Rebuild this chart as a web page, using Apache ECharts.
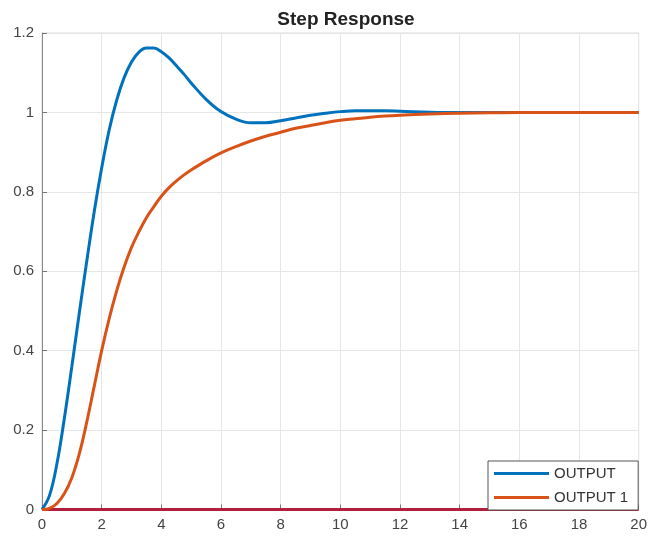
<!DOCTYPE html>
<html>
<head>
<meta charset="utf-8">
<script src="https://cdn.jsdelivr.net/npm/echarts@6/dist/echarts.min.js"></script>
<style>
  html, body { margin: 0; padding: 0; background: #fff; }
  #chart { width: 650px; height: 541px; }
</style>
</head>
<body>
<div id="chart"></div>
<script>
// Sample times (s) for the two step responses
const time = [0, 0.25, 0.5, 0.75, 1, 1.25, 1.5, 1.75, 2, 2.25, 2.5, 2.75, 3, 3.25, 3.5, 3.75,
  4, 4.25, 4.5, 4.75, 5, 5.5, 6, 6.5, 7, 7.5, 8, 8.5, 9, 9.5, 10, 10.5, 11, 11.5, 12,
  13, 14, 15, 16, 17, 18, 19, 20];

// Underdamped response
const output = [0, 0.035, 0.115, 0.23, 0.36, 0.495, 0.625, 0.75, 0.86, 0.955, 1.03, 1.087, 1.127, 1.152, 1.162, 1.162,
  1.153, 1.138, 1.118, 1.097, 1.074, 1.033, 1.002, 0.983, 0.974, 0.974, 0.979, 0.986, 0.993, 0.998, 1.002, 1.004, 1.004, 1.004, 1.003,
  1.0005, 0.9995, 1.0, 1.0, 1.0, 1.0, 1.0, 1.0];

// Slower, non-overshooting response
const output1 = [0, 0.003, 0.015, 0.04, 0.08, 0.14, 0.22, 0.31, 0.40, 0.48, 0.55, 0.61, 0.66, 0.70, 0.735, 0.763,
  0.789, 0.81, 0.827, 0.842, 0.855, 0.878, 0.898, 0.914, 0.928, 0.94, 0.95, 0.96, 0.967, 0.974, 0.98, 0.984, 0.988, 0.991, 0.993,
  0.996, 0.998, 0.999, 1.0, 1.0, 1.0, 1.0, 1.0];

// Zero reference line
const zeroTime = [0, 20];
const zeroValues = [0, 0];

const xTicks = { min: 0, max: 20, interval: 2 };
const yTicks = { min: 0, max: 1.2, interval: 0.2 };

const seriesNames = ['OUTPUT', 'OUTPUT 1'];

const pairs = (xs, ys) => xs.map((x, i) => [x, ys[i]]);

const font = 'Liberation Sans, Arial, Helvetica, sans-serif';
const chart = echarts.init(document.getElementById('chart'), null, { renderer: 'canvas' });

chart.setOption({
  animation: false,
  backgroundColor: '#ffffff',
  title: {
    text: 'Step Response',
    left: 341,
    top: 5,
    textAlign: 'center',
    textStyle: { fontFamily: font, fontSize: 19, fontWeight: 'bold', color: '#222' }
  },
  grid: {
    left: 42, right: 9, top: 33, bottom: 31.5,
    show: true, borderColor: '#dadada', borderWidth: 1, backgroundColor: '#fff'
  },
  legend: {
    data: seriesNames,
    orient: 'vertical',
    left: 488,
    top: 461,
    padding: [5, 10, 5, 6],
    itemGap: 9,
    itemWidth: 55,
    itemHeight: 3,
    icon: 'rect',
    backgroundColor: '#ffffff',
    borderColor: '#555',
    borderWidth: 1,
    borderRadius: 0,
    textStyle: { fontFamily: font, fontSize: 15, color: '#333' }
  },
  xAxis: {
    type: 'value',
    min: xTicks.min, max: xTicks.max, interval: xTicks.interval,
    axisLine: { show: true, lineStyle: { color: '#888', width: 1 } },
    axisTick: { show: true, inside: true, length: 5, lineStyle: { color: '#777' } },
    axisLabel: { margin: 8, fontFamily: font, fontSize: 15, color: '#444' },
    splitLine: { show: true, lineStyle: { color: '#e6e6e6', width: 1 } }
  },
  yAxis: {
    type: 'value',
    min: yTicks.min, max: yTicks.max, interval: yTicks.interval,
    axisLine: { show: true, lineStyle: { color: '#888', width: 1 } },
    axisTick: { show: true, inside: true, length: 5, lineStyle: { color: '#777' } },
    axisLabel: {
      margin: 8, fontFamily: font, fontSize: 15, color: '#444',
      formatter: v => String(Math.round(v * 10) / 10)
    },
    splitLine: { show: true, lineStyle: { color: '#e6e6e6', width: 1 } }
  },
  series: [
    {
      name: 'zero',
      type: 'line',
      data: pairs(zeroTime, zeroValues),
      showSymbol: false,
      symbol: 'none',
      lineStyle: { color: '#b0203e', width: 3 },
      z: 3
    },
    {
      name: seriesNames[0],
      type: 'line',
      data: pairs(time, output),
      smooth: 0.4,
      showSymbol: false,
      symbol: 'none',
      color: '#0072BD',
      lineStyle: { color: '#0072BD', width: 3 },
      z: 4
    },
    {
      name: seriesNames[1],
      type: 'line',
      data: pairs(time, output1),
      smooth: 0.4,
      showSymbol: false,
      symbol: 'none',
      color: '#D95319',
      lineStyle: { color: '#D95319', width: 3 },
      z: 5
    }
  ]
});
</script>
</body>
</html>
